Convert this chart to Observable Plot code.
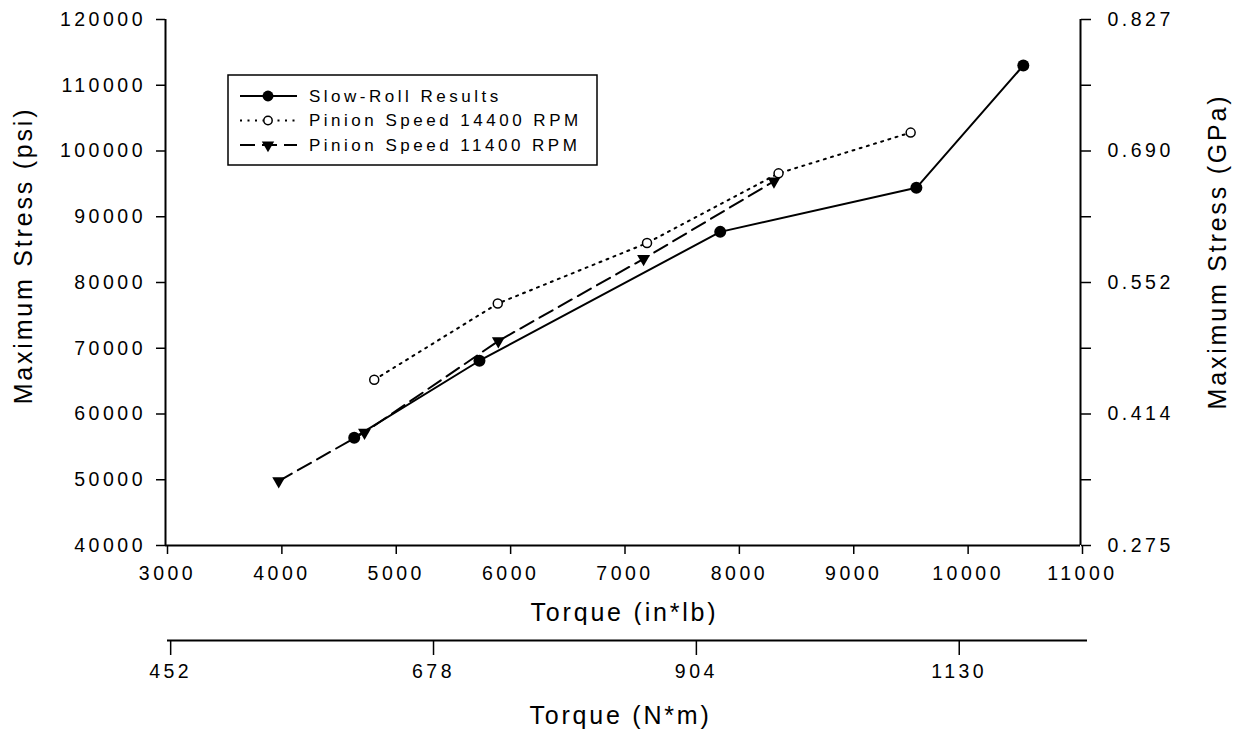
<!DOCTYPE html>
<html>
<head>
<meta charset="utf-8">
<script src="https://cdn.jsdelivr.net/npm/d3@7"></script>
<script src="https://cdn.jsdelivr.net/npm/@observablehq/plot@0.6"></script>
<style>
  html, body { margin: 0; padding: 0; background: #fff; overflow: hidden; }
  #chart svg { display: block; }
  svg text { font-family: "Liberation Sans", Arial, sans-serif; }
  g[aria-label$="tick label"] text { letter-spacing: 3.5px; }
  g[aria-label="text"] text { letter-spacing: 2.8px; }
  .legend text { letter-spacing: 3.5px; }
</style>
</head>
<body>
<div id="chart"></div>
<script>
// ---- data ----
const seriesNames = ["Slow-Roll Results", "Pinion Speed 14400 RPM", "Pinion Speed 11400 RPM"];

const slowRollTorque = [4650, 5745, 7850, 9565, 10500];
const slowRollStress = [56400, 68100, 87700, 94400, 113000];

const speed14400Torque = [4825, 5905, 7210, 8360, 9515];
const speed14400Stress = [65200, 76800, 86000, 96600, 102800];

const speed11400Torque = [3990, 4740, 5910, 7180, 8320];
const speed11400Stress = [49800, 57200, 71100, 83600, 95400];

const torqueTicks = [3000, 4000, 5000, 6000, 7000, 8000, 9000, 10000, 11000];
const psiTicks = [40000, 50000, 60000, 70000, 80000, 90000, 100000, 110000, 120000];
const gpaTickPsi = [40000, 60000, 80000, 100000, 120000];
const gpaLabels = ["0.275", "0.414", "0.552", "0.690", "0.827"];
const nmTicks = [452, 678, 904, 1130];
const nmAxisDomain = [451, 1242];

const xTitle = "Torque (in*lb)";
const yTitle = "Maximum Stress (psi)";
const y2Title = "Maximum Stress (GPa)";
const x2Title = "Torque (N*m)";

// ---- build tables ----
const toRows = (name, xs, ys) => xs.map((x, i) => ({series: name, torque: x, stress: ys[i]}));
const slowRows = toRows(seriesNames[0], slowRollTorque, slowRollStress);
const fastRows = toRows(seriesNames[1], speed14400Torque, speed14400Stress);
const midRows = toRows(seriesNames[2], speed11400Torque, speed11400Stress);

const triangleDown = {
  draw(ctx, size) {
    const y = Math.sqrt(size / (Math.sqrt(3) * 3));
    ctx.moveTo(0, 2 * y);
    ctx.lineTo(-Math.sqrt(3) * y, -y);
    ctx.lineTo(Math.sqrt(3) * y, -y);
    ctx.closePath();
  }
};

const font = '"Liberation Sans", Arial, sans-serif';
const black = "#000";

const main = Plot.plot({
  width: 1236,
  height: 625,
  marginLeft: 165,
  marginRight: 156,
  marginTop: 19,
  marginBottom: 80,
  style: {fontFamily: font, fontSize: "19.5px", color: black, background: "#fff"},
  x: {domain: [torqueTicks[0], torqueTicks[torqueTicks.length - 1]]},
  y: {domain: [psiTicks[0], psiTicks[psiTicks.length - 1]]},
  marks: [
    Plot.axisX({ticks: torqueTicks, tickSize: 9, tickPadding: 12, dx: 2, label: null, strokeWidth: 1.5, tickFormat: d => String(d)}),
    Plot.axisY({ticks: psiTicks, tickSize: 9, tickPadding: 10.5, label: null, strokeWidth: 1.5, tickFormat: d => String(d)}),
    Plot.axisY({anchor: "right", ticks: psiTicks, tickSize: 10, tickPadding: 17, label: null, strokeWidth: 1.5,
      tickFormat: d => { const i = gpaTickPsi.indexOf(d); return i < 0 ? "" : gpaLabels[i]; }}),
    Plot.ruleX([torqueTicks[0], torqueTicks[torqueTicks.length - 1]], {stroke: black, strokeWidth: 2}),
    Plot.ruleY([psiTicks[0]], {stroke: black, strokeWidth: 2}),
    Plot.line(slowRows, {x: "torque", y: "stress", stroke: black, strokeWidth: 2}),
    Plot.line(fastRows, {x: "torque", y: "stress", stroke: black, strokeWidth: 2, strokeDasharray: "2,5.5"}),
    Plot.line(midRows, {x: "torque", y: "stress", stroke: black, strokeWidth: 2, strokeDasharray: "15,7"}),
    Plot.dot(slowRows, {x: "torque", y: "stress", r: 6, fill: black}),
    Plot.dot(fastRows, {x: "torque", y: "stress", r: 4.5, fill: "#fff", stroke: black, strokeWidth: 1.5}),
    Plot.dot(midRows, {x: "torque", y: "stress", r: 4.8, symbol: triangleDown, fill: black}),
    Plot.text([yTitle], {text: d => d, frameAnchor: "left", rotate: -90, textAnchor: "middle", lineAnchor: "middle", dx: -142, dy: -27, fontSize: 25, fill: black}),
    Plot.text([y2Title], {text: d => d, frameAnchor: "right", rotate: -90, textAnchor: "middle", lineAnchor: "middle", dx: 137, dy: -31, fontSize: 25, fill: black}),
    Plot.text([xTitle], {text: d => d, frameAnchor: "bottom", textAnchor: "middle", lineAnchor: "middle", dx: 1.5, dy: 67, fontSize: 25, fill: black})
  ]
});

// ---- legend (inside main SVG) ----
const legendDash = [null, "2,5.5", "15,7"];
const legendSymbol = [
  d3.symbol(d3.symbolCircle, Math.PI * 30)(),
  d3.symbol(d3.symbolCircle, Math.PI * 4.2 * 4.2)(),
  d3.symbol(triangleDown, Math.PI * 4.6 * 4.6)()
];
const lg = d3.select(main).append("g").attr("class", "legend").attr("transform", "translate(228,75)");
lg.append("rect").attr("width", 369).attr("height", 90).attr("fill", "#fff").attr("stroke", black).attr("stroke-width", 1.5);
seriesNames.forEach((name, i) => {
  const yy = 21 + i * 24.5;
  lg.append("line").attr("x1", 12).attr("x2", 69).attr("y1", yy).attr("y2", yy)
    .attr("stroke", black).attr("stroke-width", 2).attr("stroke-dasharray", legendDash[i]);
  lg.append("path").attr("d", legendSymbol[i]).attr("transform", `translate(40,${yy})`)
    .attr("fill", i === 1 ? "#fff" : black).attr("stroke", i === 1 ? black : "none").attr("stroke-width", 1.5);
  lg.append("text").attr("x", 81).attr("y", yy).attr("dy", "0.35em")
    .attr("text-anchor", "start")
    .attr("font-size", 17).attr("fill", black).text(name);
});

// ---- secondary torque axis (N*m) ----
const sec = Plot.plot({
  width: 1236,
  height: 106,
  marginLeft: 167,
  marginRight: 149,
  marginTop: 0,
  marginBottom: 91,
  style: {fontFamily: font, fontSize: "19.5px", color: black, background: "#fff"},
  x: {domain: nmAxisDomain},
  y: {domain: [0, 1], axis: null},
  marks: [
    Plot.ruleY([0], {stroke: black, strokeWidth: 2}),
    Plot.axisX({ticks: nmTicks, tickSize: 15, tickPadding: 9, dx: 2, label: null, strokeWidth: 1.5, tickFormat: d => String(d)}),
    Plot.text([x2Title], {text: d => d, frameAnchor: "bottom", textAnchor: "middle", lineAnchor: "middle", dx: -7, dy: 75, fontSize: 25, fill: black})
  ]
});

document.getElementById("chart").append(main, sec);
</script>
</body>
</html>
